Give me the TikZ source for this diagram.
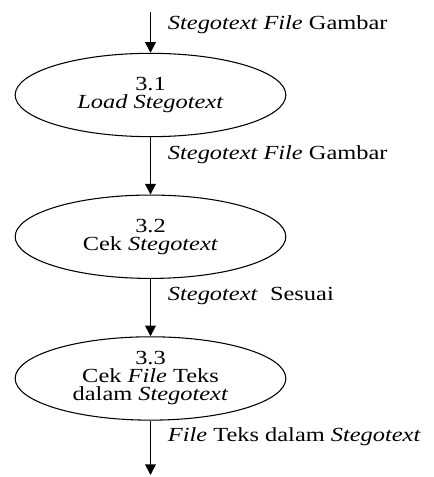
\documentclass[tikz,border=0pt]{standalone}
\usepackage{fontspec}
\setmainfont{Liberation Serif}[FakeStretch=1.22]
\usetikzlibrary{positioning}
\usetikzlibrary{shapes.geometric}
\usetikzlibrary{arrows.meta}
\tikzset{
    data flow diagram/.style={
            x=0.75pt,y=-0.75pt,
            node distance=43pt,
            font=\fontsize{15}{13.5}\selectfont,
            process/.style={ellipse,draw,line width=0.8pt,inner sep=0pt,
                    minimum width=203pt,minimum height=62.5pt,align=center},
            flow/.style={line width=1.2pt,-{Triangle[width=8pt,length=8pt]}},
            flowlabel/.style={pos=0.3,anchor=west,inner sep=0pt,xshift=12.5pt}
        }
    }
\begin{document}
\begin{tikzpicture}[data flow diagram]
    \useasboundingbox (0,0) rectangle (434,477);
    \node (p31) [process] at (150.5,95) {3.1\\\textit{Load Stegotext}};
    \node (p32) [process, below=of p31] {3.2\\Cek \textit{Stegotext}};
    \node (p33) [process, below=of p32] {3.3\\Cek \textit{File} Teks\\dalam \textit{Stegotext}};
    \coordinate (in) at (150.5,12);
    \coordinate (out) at (150.5,475);
    \draw [flow] (in) -- (p31) node [flowlabel] {\textit{Stegotext File} Gambar};
    \draw [flow] (p31) -- (p32) node [flowlabel] {\textit{Stegotext File} Gambar};
    \draw [flow] (p32) -- (p33) node [flowlabel] {\textit{Stegotext}\ \ Sesuai};
    \draw [flow] (p33) -- (out) node [flowlabel] {\textit{File} Teks dalam \textit{Stegotext}};
\end{tikzpicture}
\end{document}
